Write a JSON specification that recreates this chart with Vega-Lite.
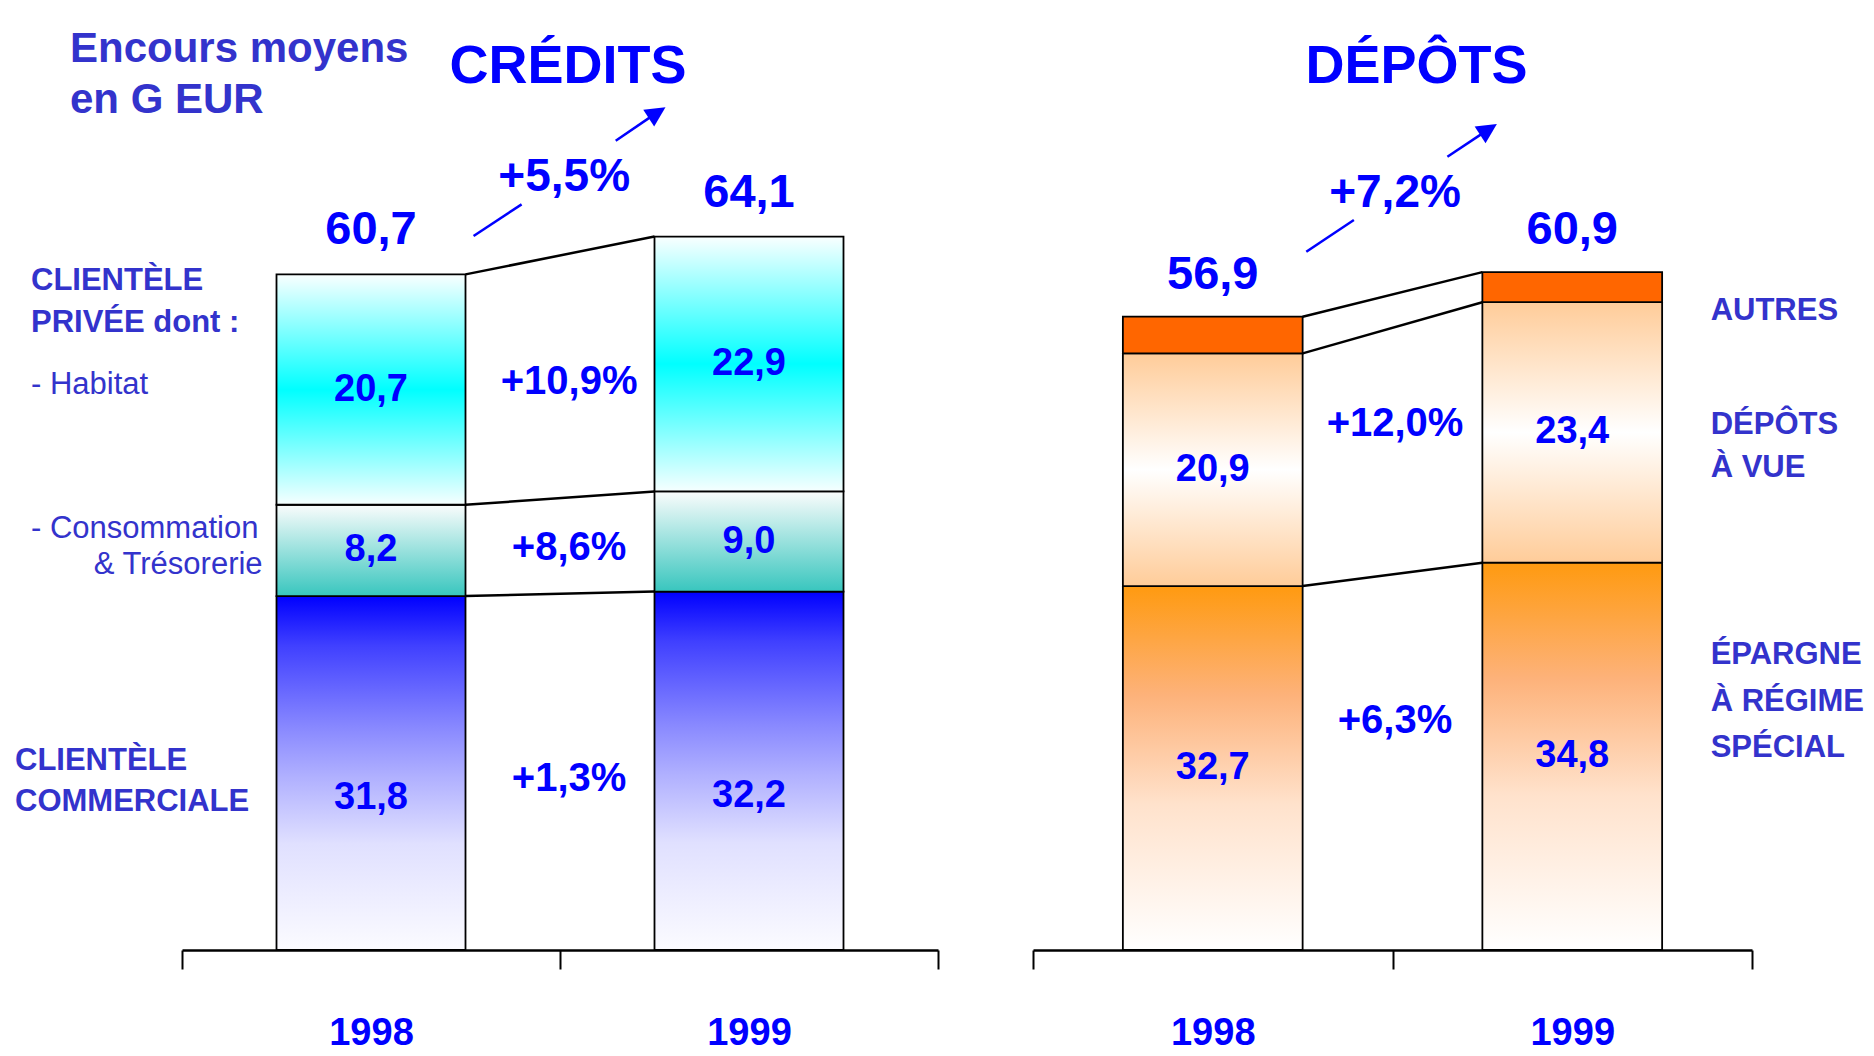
{
"$schema": "https://vega.github.io/schema/vega-lite/v6.json",
"width": 1570,
"height": 950,
"autosize": {"type": "none"},
"padding": {"left": 182, "top": 0, "right": 122, "bottom": 106},
"background": "#ffffff",
"config": {
  "view": {"stroke": null},
  "locale": {"number": {"decimal": ",", "thousands": " ", "grouping": [3], "currency": ["", " €"]}},
  "axisX": {"domainColor": "#000000", "domainWidth": 2.5, "tickColor": "#000000", "tickWidth": 2, "tickSize": 19, "tickBand": "extent", "grid": false, "labelFont": "'Liberation Sans', Arial, sans-serif", "labelFontSize": 38, "labelFontWeight": "bold", "labelColor": "#0000FF", "labelPadding": 45, "labelAngle": 0}
},
"datasets": {
  "credits": [
    {"year": "1998", "cat": "Commercial", "rank": 1, "value": 31.8, "chg": "+1,3%"},
    {"year": "1998", "cat": "Conso", "rank": 2, "value": 8.2, "chg": "+8,6%"},
    {"year": "1998", "cat": "Habitat", "rank": 3, "value": 20.7, "chg": "+10,9%"},
    {"year": "1999", "cat": "Commercial", "rank": 1, "value": 32.2, "chg": "+1,3%"},
    {"year": "1999", "cat": "Conso", "rank": 2, "value": 9.0, "chg": "+8,6%"},
    {"year": "1999", "cat": "Habitat", "rank": 3, "value": 22.9, "chg": "+10,9%"}
  ],
  "depots": [
    {"year": "1998", "cat": "Epargne", "rank": 1, "value": 32.7, "chg": "+6,3%"},
    {"year": "1998", "cat": "Vue", "rank": 2, "value": 20.9, "chg": "+12,0%"},
    {"year": "1998", "cat": "Autres", "rank": 3, "value": 3.3, "chg": ""},
    {"year": "1999", "cat": "Epargne", "rank": 1, "value": 34.8, "chg": "+6,3%"},
    {"year": "1999", "cat": "Vue", "rank": 2, "value": 23.4, "chg": "+12,0%"},
    {"year": "1999", "cat": "Autres", "rank": 3, "value": 2.7, "chg": ""}
  ]
},
"resolve": {"scale": {"x": "independent"}, "axis": {"x": "independent"}},
"layer": [
  {
    "data": {"name": "credits"},
    "transform": [{"stack": "value", "groupby": ["year"], "sort": [{"field": "rank", "order": "ascending"}], "as": ["lo", "hi"]}],
    "layer": [
      {
        "transform": [{"filter": {"field": "cat", "equal": "Commercial"}}],
        "mark": {"type": "bar", "width": {"band": 0.5}, "stroke": "#000000", "strokeWidth": 1.8,
          "fill": {"gradient": "linear", "x1": 0, "y1": 0, "x2": 0, "y2": 1, "stops": [
            {"offset": 0, "color": "#0000FF"}, {"offset": 0.14, "color": "#4040FF"}, {"offset": 0.37, "color": "#8888FF"},
            {"offset": 0.51, "color": "#B0B0FF"}, {"offset": 0.7, "color": "#E0E0FF"}, {"offset": 1, "color": "#FBFBFF"}]}},
        "encoding": {
          "x": {"field": "year", "type": "nominal", "title": null,
            "scale": {"type": "band", "domain": ["1998", "1999"], "range": [0, 756], "paddingInner": 0, "paddingOuter": 0},
            "axis": {"orient": "bottom", "title": null}},
          "y": {"field": "lo", "type": "quantitative", "scale": {"domain": [0, 85.35], "nice": false, "zero": true}, "axis": null},
          "y2": {"field": "hi"}
        }
      },
      {
        "transform": [{"filter": {"field": "cat", "equal": "Conso"}}],
        "mark": {"type": "bar", "width": {"band": 0.5}, "stroke": "#000000", "strokeWidth": 1.8,
          "fill": {"gradient": "linear", "x1": 0, "y1": 0, "x2": 0, "y2": 1, "stops": [
            {"offset": 0, "color": "#FAFCFC"}, {"offset": 1, "color": "#38C6BE"}]}},
        "encoding": {
          "x": {"field": "year", "type": "nominal", "title": null},
          "y": {"field": "lo", "type": "quantitative", "axis": null},
          "y2": {"field": "hi"}
        }
      },
      {
        "transform": [{"filter": {"field": "cat", "equal": "Habitat"}}],
        "mark": {"type": "bar", "width": {"band": 0.5}, "stroke": "#000000", "strokeWidth": 1.8,
          "fill": {"gradient": "linear", "x1": 0, "y1": 0, "x2": 0, "y2": 1, "stops": [
            {"offset": 0, "color": "#FAFFFF"}, {"offset": 0.5, "color": "#00FFFF"}, {"offset": 1, "color": "#F6FFFF"}]}},
        "encoding": {
          "x": {"field": "year", "type": "nominal", "title": null},
          "y": {"field": "lo", "type": "quantitative", "axis": null},
          "y2": {"field": "hi"}
        }
      },
      {
        "transform": [{"pivot": "year", "value": "hi", "groupby": ["cat"]}],
        "mark": {"type": "rule", "color": "#000000", "strokeWidth": 2.5},
        "encoding": {
          "x": {"datum": "1998", "bandPosition": 0.75},
          "x2": {"datum": "1999", "bandPosition": 0.25},
          "y": {"field": "1998", "type": "quantitative", "axis": null},
          "y2": {"field": "1999"}
        }
      },
      {
        "mark": {"type": "text", "font": "'Liberation Sans', Arial, sans-serif", "fontSize": 38, "fontWeight": "bold", "color": "#0000FF", "baseline": "middle"},
        "encoding": {
          "x": {"field": "year", "type": "nominal", "title": null},
          "y": {"field": "value", "type": "quantitative", "stack": "zero", "bandPosition": 0.5, "axis": null},
          "detail": {"field": "cat"},
          "order": {"field": "rank", "type": "quantitative"},
          "text": {"field": "value", "type": "quantitative", "format": ".1f"},
          "opacity": {"condition": {"test": "datum.cat === 'Commercial'", "value": 0}, "value": 1}
        }
      },
      {
        "transform": [{"filter": {"field": "cat", "equal": "Commercial"}}],
        "mark": {"type": "text", "font": "'Liberation Sans', Arial, sans-serif", "fontSize": 38, "fontWeight": "bold", "color": "#0000FF", "baseline": "middle"},
        "encoding": {
          "x": {"field": "year", "type": "nominal", "title": null},
          "y": {"field": "value", "type": "quantitative", "stack": "zero", "bandPosition": 0.43, "axis": null},
          "detail": {"field": "cat"},
          "text": {"field": "value", "type": "quantitative", "format": ".1f"}
        }
      },
      {
        "mark": {"type": "text", "font": "'Liberation Sans', Arial, sans-serif", "fontSize": 47, "fontWeight": "bold", "color": "#0000FF", "baseline": "alphabetic", "dy": -30},
        "encoding": {
          "x": {"field": "year", "type": "nominal", "title": null},
          "y": {"aggregate": "sum", "field": "value", "type": "quantitative", "axis": null},
          "text": {"aggregate": "sum", "field": "value", "type": "quantitative", "format": ".1f"}
        }
      },
      {
        "mark": {"type": "text", "font": "'Liberation Sans', Arial, sans-serif", "fontSize": 40, "fontWeight": "bold", "color": "#0000FF", "baseline": "middle"},
        "encoding": {
          "x": {"datum": "1999", "bandPosition": 0.024},
          "y": {"aggregate": "mean", "field": "value", "type": "quantitative", "stack": "zero", "bandPosition": 0.48, "axis": null},
          "detail": {"field": "cat"},
          "order": {"field": "rank", "type": "quantitative"},
          "text": {"field": "chg", "type": "nominal"}
        }
      },
      {
        "data": {"values": [{}]},
        "mark": {"type": "text", "font": "'Liberation Sans', Arial, sans-serif", "fontSize": 54, "fontWeight": "bold", "color": "#0000FF", "baseline": "middle", "align": "center"},
        "encoding": {
          "x": {"datum": "1999", "bandPosition": 0.0212},
          "y": {"datum": 79.3, "axis": null},
          "text": {"value": "CRÉDITS"}
        }
      },
      {
        "data": {"values": [{}]},
        "mark": {"type": "text", "font": "'Liberation Sans', Arial, sans-serif", "fontSize": 46, "fontWeight": "bold", "color": "#0000FF", "baseline": "middle", "align": "center"},
        "encoding": {
          "x": {"datum": "1999", "bandPosition": 0.0111},
          "y": {"datum": 69.41, "axis": null},
          "text": {"value": "+5,5%"}
        }
      },
      {
        "data": {"values": [{}]},
        "mark": {"type": "rule", "color": "#0000FF", "strokeWidth": 2.5},
        "encoding": {
          "x": {"datum": "1998", "bandPosition": 0.7714},
          "x2": {"datum": "1998", "bandPosition": 0.8984},
          "y": {"datum": 64.14, "axis": null},
          "y2": {"datum": 66.99}
        }
      },
      {
        "data": {"values": [{}]},
        "mark": {"type": "rule", "color": "#0000FF", "strokeWidth": 2.5},
        "encoding": {
          "x": {"datum": "1999", "bandPosition": 0.1474},
          "x2": {"datum": "1999", "bandPosition": 0.237},
          "y": {"datum": 72.71, "axis": null},
          "y2": {"datum": 74.78}
        }
      },
      {
        "data": {"values": [{}]},
        "mark": {"type": "point", "shape": "M0,-1L1,1L-1,1Z", "filled": true, "color": "#0000FF", "size": 400, "angle": 57, "opacity": 1, "strokeWidth": 0},
        "encoding": {
          "x": {"datum": "1999", "bandPosition": 0.2569},
          "y": {"datum": 75.22, "axis": null}
        }
      },
      {
        "data": {"values": [{}]},
        "mark": {"type": "text", "font": "'Liberation Sans', Arial, sans-serif", "fontSize": 42, "fontWeight": "bold", "color": "#3333CC", "baseline": "middle", "align": "left", "lineHeight": 51.5},
        "encoding": {
          "x": {"datum": "1998", "bandPosition": -0.2963},
          "y": {"datum": 80.99, "axis": null},
          "text": {"value": ["Encours moyens", "en G EUR"]}
        }
      },
      {
        "data": {"values": [{}]},
        "mark": {"type": "text", "font": "'Liberation Sans', Arial, sans-serif", "fontSize": 31, "fontWeight": "bold", "color": "#3333CC", "baseline": "middle", "align": "left", "lineHeight": 41.5},
        "encoding": {
          "x": {"datum": "1998", "bandPosition": -0.3995},
          "y": {"datum": 60.1, "axis": null},
          "text": {"value": ["CLIENTÈLE", "PRIVÉE dont :"]}
        }
      },
      {
        "data": {"values": [{}]},
        "mark": {"type": "text", "font": "'Liberation Sans', Arial, sans-serif", "fontSize": 31, "fontWeight": "normal", "color": "#3333CC", "baseline": "middle", "align": "left"},
        "encoding": {
          "x": {"datum": "1998", "bandPosition": -0.3995},
          "y": {"datum": 50.8, "axis": null},
          "text": {"value": "- Habitat"}
        }
      },
      {
        "data": {"values": [{}]},
        "mark": {"type": "text", "font": "'Liberation Sans', Arial, sans-serif", "fontSize": 31, "fontWeight": "normal", "color": "#3333CC", "baseline": "middle", "align": "left"},
        "encoding": {
          "x": {"datum": "1998", "bandPosition": -0.3995},
          "y": {"datum": 37.82, "axis": null},
          "text": {"value": "- Consommation"}
        }
      },
      {
        "data": {"values": [{}]},
        "mark": {"type": "text", "font": "'Liberation Sans', Arial, sans-serif", "fontSize": 31, "fontWeight": "normal", "color": "#3333CC", "baseline": "middle", "align": "right"},
        "encoding": {
          "x": {"datum": "1998", "bandPosition": 0.2132},
          "y": {"datum": 34.63, "axis": null},
          "text": {"value": "& Trésorerie"}
        }
      },
      {
        "data": {"values": [{}]},
        "mark": {"type": "text", "font": "'Liberation Sans', Arial, sans-serif", "fontSize": 31, "fontWeight": "bold", "color": "#3333CC", "baseline": "middle", "align": "left", "lineHeight": 41.7},
        "encoding": {
          "x": {"datum": "1998", "bandPosition": -0.4418},
          "y": {"datum": 17.0, "axis": null},
          "text": {"value": ["CLIENTÈLE", "COMMERCIALE"]}
        }
      }
    ]
  },
  {
    "data": {"name": "depots"},
    "transform": [{"stack": "value", "groupby": ["year"], "sort": [{"field": "rank", "order": "ascending"}], "as": ["lo", "hi"]}],
    "layer": [
      {
        "transform": [{"filter": {"field": "cat", "equal": "Epargne"}}],
        "mark": {"type": "bar", "width": {"band": 0.5}, "stroke": "#000000", "strokeWidth": 1.8,
          "fill": {"gradient": "linear", "x1": 0, "y1": 0, "x2": 0, "y2": 1, "stops": [
            {"offset": 0, "color": "#FF9A10"}, {"offset": 0.3, "color": "#FDB27A"}, {"offset": 0.6, "color": "#FFE2CC"}, {"offset": 1, "color": "#FFFFFF"}]}},
        "encoding": {
          "x": {"field": "year", "type": "nominal", "title": null,
            "scale": {"type": "band", "domain": ["1998", "1999"], "range": [851, 1570], "paddingInner": 0, "paddingOuter": 0},
            "axis": {"orient": "bottom", "title": null}},
          "y": {"field": "lo", "type": "quantitative", "axis": null},
          "y2": {"field": "hi"}
        }
      },
      {
        "transform": [{"filter": {"field": "cat", "equal": "Vue"}}],
        "mark": {"type": "bar", "width": {"band": 0.5}, "stroke": "#000000", "strokeWidth": 1.8,
          "fill": {"gradient": "linear", "x1": 0, "y1": 0, "x2": 0, "y2": 1, "stops": [
            {"offset": 0, "color": "#FFCC99"}, {"offset": 0.5, "color": "#FFFFFF"}, {"offset": 1, "color": "#FFCC99"}]}},
        "encoding": {
          "x": {"field": "year", "type": "nominal", "title": null},
          "y": {"field": "lo", "type": "quantitative", "axis": null},
          "y2": {"field": "hi"}
        }
      },
      {
        "transform": [{"filter": {"field": "cat", "equal": "Autres"}}],
        "mark": {"type": "bar", "width": {"band": 0.5}, "stroke": "#000000", "strokeWidth": 1.8, "fill": "#FF6600"},
        "encoding": {
          "x": {"field": "year", "type": "nominal", "title": null},
          "y": {"field": "lo", "type": "quantitative", "axis": null},
          "y2": {"field": "hi"}
        }
      },
      {
        "transform": [{"pivot": "year", "value": "hi", "groupby": ["cat"]}],
        "mark": {"type": "rule", "color": "#000000", "strokeWidth": 2.5},
        "encoding": {
          "x": {"datum": "1998", "bandPosition": 0.75},
          "x2": {"datum": "1999", "bandPosition": 0.25},
          "y": {"field": "1998", "type": "quantitative", "axis": null},
          "y2": {"field": "1999"}
        }
      },
      {
        "mark": {"type": "text", "font": "'Liberation Sans', Arial, sans-serif", "fontSize": 38, "fontWeight": "bold", "color": "#0000FF", "baseline": "middle"},
        "encoding": {
          "x": {"field": "year", "type": "nominal", "title": null},
          "y": {"field": "value", "type": "quantitative", "stack": "zero", "bandPosition": 0.5, "axis": null},
          "detail": {"field": "cat"},
          "order": {"field": "rank", "type": "quantitative"},
          "text": {"field": "value", "type": "quantitative", "format": ".1f"},
          "opacity": {"condition": {"test": "datum.cat === 'Autres'", "value": 0}, "value": 1}
        }
      },
      {
        "mark": {"type": "text", "font": "'Liberation Sans', Arial, sans-serif", "fontSize": 47, "fontWeight": "bold", "color": "#0000FF", "baseline": "alphabetic", "dy": -28},
        "encoding": {
          "x": {"field": "year", "type": "nominal", "title": null},
          "y": {"aggregate": "sum", "field": "value", "type": "quantitative", "axis": null},
          "text": {"aggregate": "sum", "field": "value", "type": "quantitative", "format": ".1f"}
        }
      },
      {
        "mark": {"type": "text", "font": "'Liberation Sans', Arial, sans-serif", "fontSize": 40, "fontWeight": "bold", "color": "#0000FF", "baseline": "middle"},
        "encoding": {
          "x": {"datum": "1999", "bandPosition": 0.007},
          "y": {"aggregate": "mean", "field": "value", "type": "quantitative", "stack": "zero", "bandPosition": 0.61, "axis": null},
          "detail": {"field": "cat"},
          "order": {"field": "rank", "type": "quantitative"},
          "text": {"field": "chg", "type": "nominal"}
        }
      },
      {
        "data": {"values": [{}]},
        "mark": {"type": "text", "font": "'Liberation Sans', Arial, sans-serif", "fontSize": 54, "fontWeight": "bold", "color": "#0000FF", "baseline": "middle", "align": "center"},
        "encoding": {
          "x": {"datum": "1999", "bandPosition": 0.0668},
          "y": {"datum": 79.3, "axis": null},
          "text": {"value": "DÉPÔTS"}
        }
      },
      {
        "data": {"values": [{}]},
        "mark": {"type": "text", "font": "'Liberation Sans', Arial, sans-serif", "fontSize": 46, "fontWeight": "bold", "color": "#0000FF", "baseline": "middle", "align": "center"},
        "encoding": {
          "x": {"datum": "1999", "bandPosition": 0.007},
          "y": {"datum": 68.03, "axis": null},
          "text": {"value": "+7,2%"}
        }
      },
      {
        "data": {"values": [{}]},
        "mark": {"type": "rule", "color": "#0000FF", "strokeWidth": 2.5},
        "encoding": {
          "x": {"datum": "1998", "bandPosition": 0.7602},
          "x2": {"datum": "1998", "bandPosition": 0.8926},
          "y": {"datum": 62.73, "axis": null},
          "y2": {"datum": 65.58}
        }
      },
      {
        "data": {"values": [{}]},
        "mark": {"type": "rule", "color": "#0000FF", "strokeWidth": 2.5},
        "encoding": {
          "x": {"datum": "1999", "bandPosition": 0.1527},
          "x2": {"datum": "1999", "bandPosition": 0.2462},
          "y": {"datum": 71.27, "axis": null},
          "y2": {"datum": 73.28}
        }
      },
      {
        "data": {"values": [{}]},
        "mark": {"type": "point", "shape": "M0,-1L1,1L-1,1Z", "filled": true, "color": "#0000FF", "size": 400, "angle": 57, "opacity": 1, "strokeWidth": 0},
        "encoding": {
          "x": {"datum": "1999", "bandPosition": 0.267},
          "y": {"datum": 73.72, "axis": null}
        }
      },
      {
        "data": {"values": [{}]},
        "mark": {"type": "text", "font": "'Liberation Sans', Arial, sans-serif", "fontSize": 31, "fontWeight": "bold", "color": "#3333CC", "baseline": "middle", "align": "left"},
        "encoding": {
          "x": {"datum": "1999", "bandPosition": 0.885},
          "y": {"datum": 57.42, "axis": null},
          "text": {"value": "AUTRES"}
        }
      },
      {
        "data": {"values": [{}]},
        "mark": {"type": "text", "font": "'Liberation Sans', Arial, sans-serif", "fontSize": 31, "fontWeight": "bold", "color": "#3333CC", "baseline": "middle", "align": "left", "lineHeight": 43.3},
        "encoding": {
          "x": {"datum": "1999", "bandPosition": 0.885},
          "y": {"datum": 47.17, "axis": null},
          "text": {"value": ["DÉPÔTS", "À VUE"]}
        }
      },
      {
        "data": {"values": [{}]},
        "mark": {"type": "text", "font": "'Liberation Sans', Arial, sans-serif", "fontSize": 31, "fontWeight": "bold", "color": "#3333CC", "baseline": "middle", "align": "left", "lineHeight": 46.7},
        "encoding": {
          "x": {"datum": "1999", "bandPosition": 0.885},
          "y": {"datum": 26.5, "axis": null},
          "text": {"value": ["ÉPARGNE", "À RÉGIME", "SPÉCIAL"]}
        }
      }
    ]
  }
]
}
